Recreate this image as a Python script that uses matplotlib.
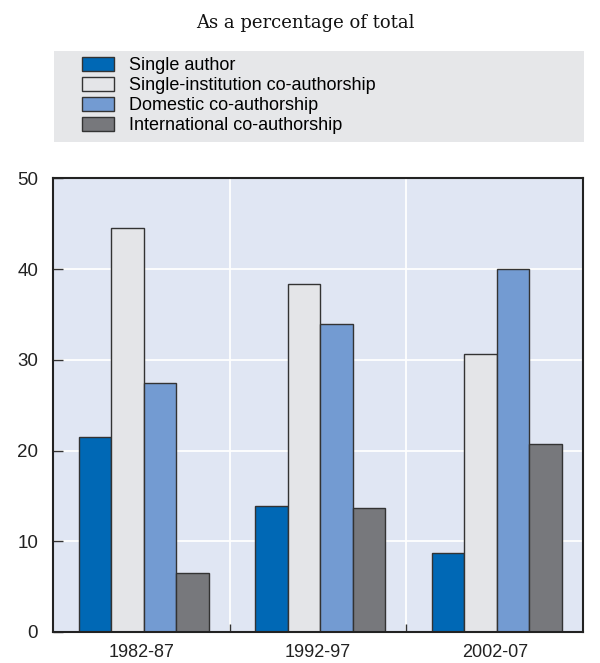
import numpy as np
import matplotlib.pyplot as plt
from matplotlib.patches import Rectangle, Patch

# ---- дані ----
periods = ["1982-87", "1992-97", "2002-07"]
series = ["Single author", "Single-institution co-authorship",
          "Domestic co-authorship", "International co-authorship"]
single_author = [21.5, 13.9, 8.7]
single_inst = [44.5, 38.4, 30.7]
domestic = [27.5, 34.0, 40.0]
international = [6.5, 13.7, 20.7]
yticks = [0, 10, 20, 30, 40, 50]

colors = ["#0068B5", "#E4E5E8", "#739BD2", "#77787C"]
edge = "#333333"
sans = ["Liberation Sans", "DejaVu Sans"]

fig = plt.figure(figsize=(6, 6.63), dpi=100)
ax = fig.add_axes([0.0889, 0.0468, 0.8828, 0.684])
ax.set_facecolor("#E0E6F3")

x = np.arange(len(periods)) + 0.5
width = 0.184
values = [single_author, single_inst, domestic, international]
for i, vals in enumerate(values):
    ax.bar(x + (i - 1.5) * width + 0.012, vals, width=width, color=colors[i],
           edgecolor=edge, linewidth=1.0, zorder=3)

ax.set_xlim(0, 3)
ax.set_ylim(0, 50)
ax.set_yticks(yticks)
ax.set_yticklabels([str(v) for v in yticks], family=sans, fontsize=13.5, color="#222222")

# межі категорій - великі поділки, підписи - на малих
ax.set_xticks([1, 2])
ax.set_xticklabels([])
ax.set_xticks(x, minor=True)
ax.set_xticklabels(periods, minor=True, family=sans, fontsize=13, color="#222222")
ax.tick_params(axis="x", which="major", direction="in", length=6, width=1, color="#333333")
ax.tick_params(axis="x", which="minor", length=0, pad=9)
ax.tick_params(axis="y", direction="in", length=7, width=1, color="#333333", pad=11)

ax.grid(True, color="white", linewidth=1.3, zorder=1)
ax.set_axisbelow(True)
for s in ax.spines.values():
    s.set_linewidth(1.5)
    s.set_color("#222222")
    s.set_zorder(4)

# ---- підзаголовок ----
fig.text(0.5083, 1 - 28 / 663, "As a percentage of total", ha="center", va="baseline",
         family=["DejaVu Serif"], fontsize=13, color="#111111")

# ---- легенда на сірому тлі ----
fig.patches.append(Rectangle((54 / 600, 1 - 142 / 663), 530 / 600, 91 / 663,
                             transform=fig.transFigure, facecolor="#E6E7E9",
                             edgecolor="none", zorder=0))
handles = [Patch(facecolor=c, edgecolor=edge, linewidth=1.0) for c in colors]
fig.legend(handles, series, loc="upper left",
           bbox_to_anchor=(82 / 600, 1 - 57 / 663), frameon=False,
           prop={"family": sans, "size": 13}, handlelength=1.75, handleheight=0.8,
           handletextpad=0.85, labelspacing=0.16, borderpad=0, borderaxespad=0)

fig.savefig("out.png", dpi=100)
